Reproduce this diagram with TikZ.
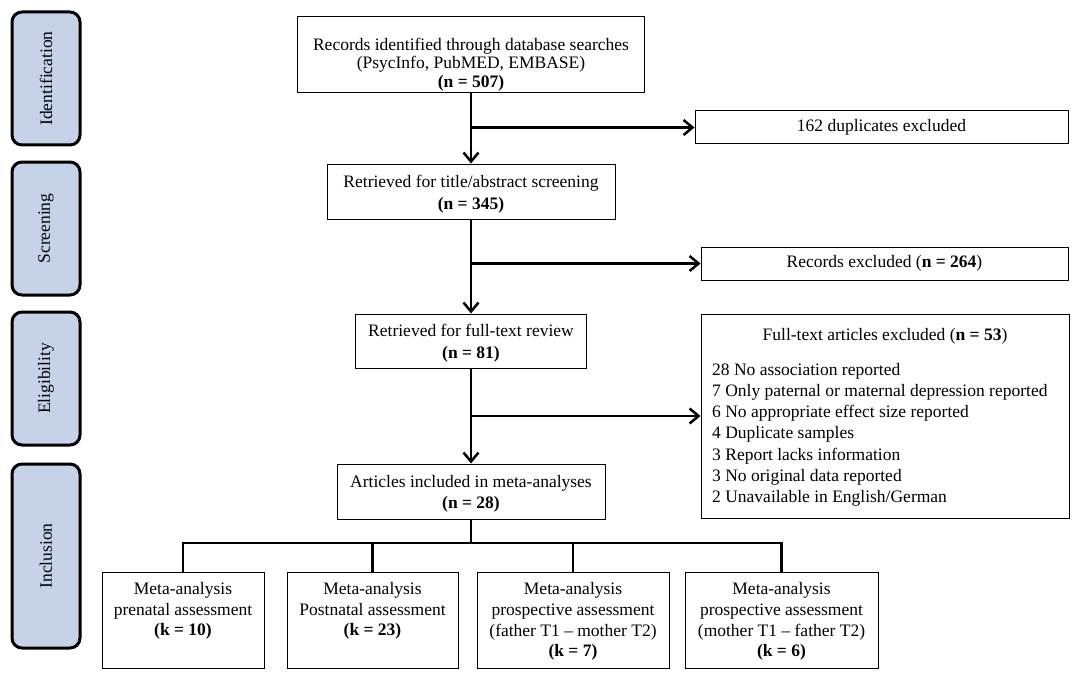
\documentclass[tikz,border=0pt]{standalone}
\usepackage{fontspec}
\setmainfont{Liberation Serif}
\usetikzlibrary{arrows.meta}
\definecolor{phase}{RGB}{197,210,232}
\begin{document}
\begin{tikzpicture}[x=1pt,y=-1pt,
  every node/.style={font=\fontsize{17.5}{21.5}\selectfont},
  box/.style={draw=black,line width=1pt,inner sep=0pt},
  txt/.style={inner sep=0pt,align=center},
  phasebox/.style={draw=black,line width=3pt,fill=phase,rounded corners=10pt,inner sep=0pt,minimum width=68pt},
  conn/.style={line width=2.5pt},
  arr/.style={line width=2.5pt,-{Straight Barb[length=9pt,width=15pt]}}]
\useasboundingbox (0,0) rectangle (1084,682);

% phase boxes
\node[phasebox,minimum height=133pt] (pid) at (46,78.5) {};
\node[rotate=90] (pidt) at (pid.center) {Identification};
\node[phasebox,minimum height=133pt] (psc) at (46,228.5) {};
\node[rotate=90] (psct) at (psc.center) {Screening};
\node[phasebox,minimum height=133pt] (pel) at (46,378.5) {};
\node[rotate=90] (pelt) at (pel.center) {Eligibility};
\node[phasebox,minimum height=184pt] (pin) at (46,556) {};
\node[rotate=90] (pint) at (pin.center) {Inclusion};

% main column
\node[box,minimum width=347pt,minimum height=76pt] (b1) at (471,55) {};
\node[txt,font=\fontsize{17.5}{18.5}\selectfont] (b1t) at (471,64.5) {Records identified through database searches\\(PsycInfo, PubMED, EMBASE)\\\textbf{(n = 507)}};
\node[box,minimum width=288pt,minimum height=55pt] (b2) at (471,191.5) {};
\node[txt,font=\fontsize{17.5}{22}\selectfont] (b2t) at (471,194) {Retrieved for title/abstract screening\\\textbf{(n = 345)}};
\node[box,minimum width=231pt,minimum height=54pt] (b3) at (471,341) {};
\node[txt] (b3t) at (471,343) {Retrieved for full-text review\\\textbf{(n = 81)}};
\node[box,minimum width=268pt,minimum height=55pt] (b4) at (471,491.5) {};
\node[txt] (b4t) at (471,494) {Articles included in meta-analyses\\\textbf{(n = 28)}};

% exclusion boxes
\node[box,minimum width=373pt,minimum height=33pt] (dup) at (881.5,127.5) {};
\node[txt] (dupt) at (dup.center) {162 duplicates excluded};
\node[box,minimum width=367pt,minimum height=33pt] (rex) at (884.5,263.5) {};
\node[txt] (rext) at (rex.center) {Records excluded (\textbf{n = 264})};
\node[box,minimum width=368pt,minimum height=204pt] (fex) at (885,416) {};
\node[txt] (fext) at (885,336) {Full-text articles excluded (\textbf{n = 53})};
\node[inner sep=0pt,align=left,anchor=north west,font=\fontsize{17.5}{21.2}\selectfont] (fexl) at (712,363) {28 No association reported\\7 Only paternal or maternal depression reported\\6 No appropriate effect size reported\\4 Duplicate samples\\3 Report lacks information\\3 No original data reported\\2 Unavailable in English/German};

% bottom boxes
\node[box,minimum width=162pt,minimum height=96pt] (ma) at (183,620) {};
\node[txt,font=\fontsize{17.5}{20.6}\selectfont] (mat) at (183,611) {Meta-analysis\\prenatal assessment\\\textbf{(k = 10)}};
\node[box,minimum width=171pt,minimum height=96pt] (mb) at (372.5,620) {};
\node[txt,font=\fontsize{17.5}{20.6}\selectfont] (mbt) at (372.5,611) {Meta-analysis\\Postnatal assessment\\\textbf{(k = 23)}};
\node[box,minimum width=192pt,minimum height=96pt] (mc) at (573,620) {};
\node[txt,font=\fontsize{17.5}{20.6}\selectfont] (mct) at (573,621.5) {Meta-analysis\\prospective assessment\\(father T1 -- mother T2)\\\textbf{(k = 7)}};
\node[box,minimum width=193pt,minimum height=96pt] (md) at (781.5,620) {};
\node[txt,font=\fontsize{17.5}{20.6}\selectfont] (mdt) at (781.5,621.5) {Meta-analysis\\prospective assessment\\(mother T1 -- father T2)\\\textbf{(k = 6)}};

% connectors
\draw[arr] (b1.south) -- (b2.north);
\draw[arr] (b2.south) -- (b3.north);
\draw[arr] (b3.south) -- (b4.north);
\draw[arr] (b1.south |- dup.west) -- (dup.west);
\draw[arr] (b2.south |- rex.west) -- (rex.west);
\draw[arr] (b3.south |- fex.west) -- (fex.west);
\coordinate (bar) at (471,543);
\draw[conn] (b4.south) -- (bar);
\draw[conn,line cap=rect] (ma.north) |- (bar);
\draw[conn] (mb.north) |- (bar);
\draw[conn] (mc.north) |- (bar);
\draw[conn,line cap=rect] (md.north) |- (bar);
\end{tikzpicture}
\end{document}
